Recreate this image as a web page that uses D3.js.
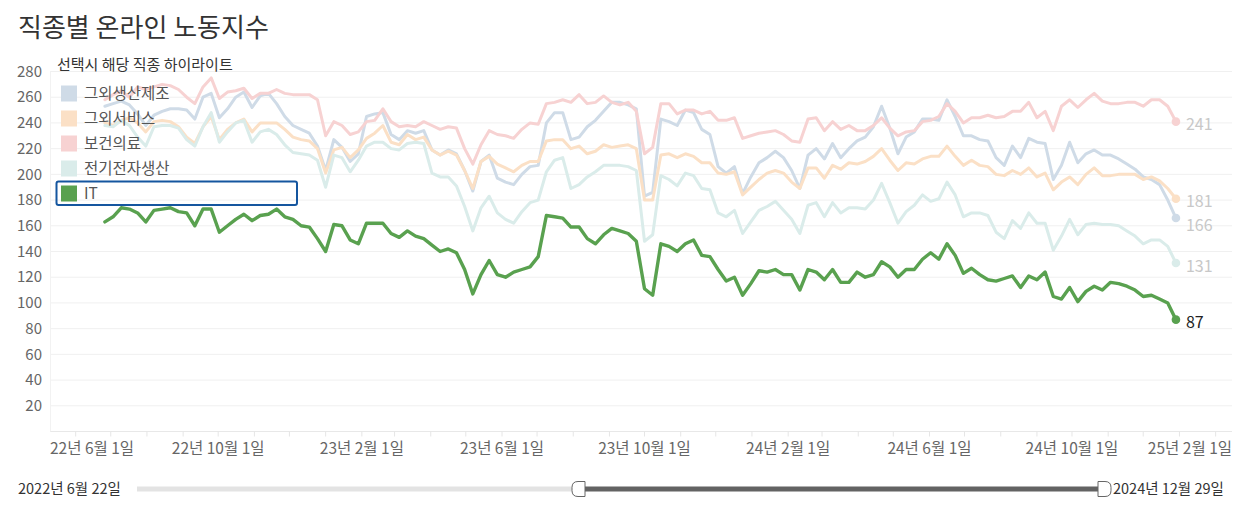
<!DOCTYPE html>
<html><head><meta charset="utf-8">
<script src="https://cdn.jsdelivr.net/npm/d3@7"></script>
<style>
body{margin:0;background:#fff;}
svg{display:block;font-family:"Noto Sans CJK KR","Noto Sans",sans-serif;}
</style></head><body>
<svg id="chart" width="1258" height="516"></svg>
<script>
// ---------- data ----------
const chartTitle = "직종별 온라인 노동지수";
const legendTitle = "선택시 해당 직종 하이라이트";
const seriesNames = ["그외생산제조", "그외서비스", "보건의료", "전기전자생산", "IT"];
const seriesColors = ["#4e79a7", "#f28e2b", "#e15759", "#76b7b2", "#59a14f"];
const highlighted = "IT";
const firstWeek = "2022-06-26";
const lastWeek = "2024-12-29";
const yTickValues = [20, 40, 60, 80, 100, 120, 140, 160, 180, 200, 220, 240, 260, 280];
const xLabelDates = ["2022-06-01", "2022-10-01", "2023-02-01", "2023-06-01", "2023-10-01", "2024-02-01", "2024-06-01", "2024-10-01", "2025-02-01"];
const sliderStartLabel = "2022년 6월 22일";
const sliderEndLabel = "2024년 12월 29일";

const otherManufacturing = [253,255,257,254,247,238,246,249,251,251,250,243,260,263,244,251,260,264,252,261,
  263,255,245,238,235,232,222,203,227,221,210,216,245,247,248,231,227,234,232,234,
  219,215,219,216,203,187,210,215,197,194,192,200,206,207,240,248,248,227,229,237,
  242,249,256,256,254,251,183,186,243,241,238,250,248,235,231,206,201,206,185,198,
  209,213,218,213,203,189,215,220,212,224,213,220,226,229,237,253,236,216,229,233,
  243,243,242,258,245,230,230,227,226,213,207,222,213,228,225,224,196,207,225,209,
  216,219,215,215,212,208,204,198,196,192,180,166];
const otherServices = [240,238,242,244,240,233,241,242,241,237,229,224,237,245,227,235,240,243,233,240,
  240,240,235,229,227,226,220,201,219,221,213,219,228,232,238,225,223,231,227,229,
  219,215,218,215,203,189,210,214,208,205,202,207,210,210,226,227,227,220,222,216,
  218,223,221,222,223,220,180,180,215,216,213,216,214,209,209,201,200,202,184,190,
  196,201,203,201,194,189,205,205,197,207,204,209,208,210,214,220,211,203,209,208,
  212,214,214,222,214,207,211,207,206,200,199,203,200,205,198,201,188,194,198,192,
  200,205,199,199,200,200,200,196,198,195,189,181];
const healthcare = [258,262,265,260,268,266,268,270,269,266,260,255,268,275,259,264,265,267,259,263,
  263,266,263,262,262,262,258,230,241,238,231,233,241,242,251,241,237,238,237,241,
  238,235,237,236,220,208,223,234,231,230,228,235,240,239,255,256,258,256,262,255,
  256,261,256,254,256,249,216,221,255,255,247,250,250,247,249,242,242,244,228,230,
  232,233,234,231,226,225,243,244,234,241,235,238,234,234,238,244,236,230,233,234,
  241,242,245,255,249,240,244,244,246,244,245,249,249,256,244,249,234,253,258,252,
  258,263,257,255,255,256,256,253,258,258,253,241];
const electronics = [238,237,242,238,229,222,237,238,238,236,227,222,237,248,225,233,240,242,225,233,
  235,231,223,217,216,215,211,190,215,213,202,211,222,225,225,220,219,224,225,224,
  201,198,198,191,175,156,174,183,170,165,162,171,178,180,202,211,213,189,192,198,
  202,207,207,207,206,203,148,153,199,196,191,201,199,189,188,170,167,172,154,163,
  172,175,179,172,165,154,176,178,167,178,170,174,174,173,180,193,178,162,171,176,
  184,179,181,194,184,167,170,170,168,155,150,164,158,170,162,162,141,152,165,153,
  161,162,161,161,160,156,152,146,149,149,144,131];
const itJobs = [163,167,174,173,170,163,172,173,174,171,170,160,173,173,155,160,165,169,164,168,
  169,173,167,165,160,159,150,140,161,160,149,146,162,162,162,154,151,156,152,150,
  145,140,142,139,126,107,122,133,122,120,124,126,128,136,168,167,166,159,159,150,
  146,153,158,156,154,148,111,106,146,144,140,146,149,137,136,126,117,120,106,115,
  125,124,126,122,122,110,126,124,118,126,116,116,124,120,122,132,128,120,126,126,
  134,139,134,146,137,123,127,122,118,117,119,121,112,121,118,124,105,103,112,101,
  109,113,110,116,115,113,110,105,106,103,100,87];

const seriesValues = [otherManufacturing, otherServices, healthcare, electronics, itJobs];

// ---------- layout ----------
const W = 1258, H = 516;
const plotLeft = 50, plotRight = 1232, plotTop = 71.5, plotBottom = 431.5;
const fadedOpacity = 0.27;

const svg = d3.select("#chart");
const parse = d3.utcParse("%Y-%m-%d");
const weeks = d3.utcSunday.range(parse(firstWeek), d3.utcDay.offset(parse(lastWeek), 1));

const x = d3.scaleUtc()
  .domain([d3.utcDay.offset(weeks[0], -47), d3.utcDay.offset(weeks[weeks.length - 1], 48)])
  .range([plotLeft, plotRight]);
const y = d3.scaleLinear().domain([0, 280]).range([plotBottom, plotTop]);

function fadeColor(c, a) {
  const col = d3.rgb(c);
  return d3.rgb(255 - a * (255 - col.r), 255 - a * (255 - col.g), 255 - a * (255 - col.b)).formatHex();
}
const colorOf = (name, i) => name === highlighted ? seriesColors[i] : fadeColor(seriesColors[i], fadedOpacity);

// title
svg.append("text").attr("x", 18).attr("y", 28).attr("dy", "0.35em")
  .attr("font-size", 26).attr("fill", "#333").text(chartTitle);

// grid
const grid = svg.append("g");
grid.selectAll("line.h").data(yTickValues).join("line")
  .attr("x1", plotLeft).attr("x2", plotRight)
  .attr("y1", d => y(d)).attr("y2", d => y(d))
  .attr("stroke", "#f0f0f0").attr("stroke-width", 1);
grid.append("line").attr("x1", plotLeft).attr("x2", plotRight)
  .attr("y1", y(0)).attr("y2", y(0)).attr("stroke", "#e8e8e8");
grid.append("line").attr("x1", plotLeft + 0.5).attr("x2", plotLeft + 0.5)
  .attr("y1", plotTop).attr("y2", y(0)).attr("stroke", "#f2f2f2");

// y labels
svg.append("g").selectAll("text").data(yTickValues).join("text")
  .attr("x", 42).attr("y", d => y(d)).attr("dy", "0.35em")
  .attr("text-anchor", "end").attr("font-size", 15).attr("fill", "#666")
  .text(d => d);

// x month ticks
const months = d3.utcMonth.range(parse("2022-06-01"), parse("2025-02-02"));
svg.append("g").selectAll("line").data(months).join("line")
  .attr("x1", d => x(d)).attr("x2", d => x(d))
  .attr("y1", y(0)).attr("y2", y(0) + 5)
  .attr("stroke", "#e6e6e6");

// x labels (clamped inside plot)
const fmt = d3.utcFormat("%y년 %-m월 %-d일");
const xl = svg.append("g").selectAll("text").data(xLabelDates.map(parse)).join("text")
  .attr("y", 449).attr("dy", "0.35em").attr("font-size", 15.5).attr("fill", "#666")
  .attr("text-anchor", "middle").text(d => fmt(d));
xl.each(function(d) {
  const w = this.getComputedTextLength();
  let cx = x(d);
  cx = Math.max(plotLeft + w / 2, Math.min(plotRight - w / 2, cx));
  d3.select(this).attr("x", cx);
});

// lines
const line = d3.line().x((d, i) => x(weeks[i])).y(d => y(d));
const order = seriesNames.map((n, i) => i).sort((a, b) => (seriesNames[a] === highlighted) - (seriesNames[b] === highlighted));
const lg = svg.append("g");
order.forEach(i => {
  const hl = seriesNames[i] === highlighted;
  lg.append("path").datum(seriesValues[i])
    .attr("d", line).attr("fill", "none")
    .attr("stroke", colorOf(seriesNames[i], i))
    .attr("stroke-width", hl ? 3.4 : 3)
    .attr("stroke-linejoin", "round").attr("stroke-linecap", "round");
});
// end dots
order.forEach(i => {
  const v = seriesValues[i];
  lg.append("circle").attr("cx", x(weeks[v.length - 1])).attr("cy", y(v[v.length - 1]))
    .attr("r", 4.3).attr("fill", colorOf(seriesNames[i], i));
});

// end labels with simple collision avoidance
const ends = seriesNames.map((n, i) => ({ n, i, v: seriesValues[i][seriesValues[i].length - 1] }))
  .sort((a, b) => b.v - a.v);
let prev = -Infinity;
ends.forEach(e => {
  let ly = y(e.v) + 3;
  if (ly < prev + 24) ly = prev + 24;
  e.ly = ly; prev = ly;
});
svg.append("g").selectAll("text").data(ends).join("text")
  .attr("x", x(weeks[weeks.length - 1]) + 10).attr("y", d => d.ly).attr("dy", "0.35em")
  .attr("font-size", 16)
  .attr("fill", d => d.n === highlighted ? "#222" : "#c8c8c8")
  .text(d => d.v);

// legend
const leg = svg.append("g");
leg.append("text").attr("x", 57).attr("y", 65).attr("dy", "0.35em")
  .attr("font-size", 15).attr("fill", "#333").text(legendTitle);
const items = leg.selectAll("g.item").data(seriesNames).join("g")
  .attr("transform", (d, i) => `translate(0, ${93.5 + 25 * i})`);
items.append("rect").attr("x", 61).attr("y", -8).attr("width", 16).attr("height", 16)
  .attr("fill", (d, i) => colorOf(d, i));
items.append("text").attr("x", 84).attr("y", 0).attr("dy", "0.35em")
  .attr("font-size", 15.5).attr("fill", "#555").text(d => d);
items.filter(d => d === highlighted).append("rect")
  .attr("x", 56.5).attr("y", -12).attr("width", 240.5).attr("height", 23.5)
  .attr("rx", 2).attr("fill", "none").attr("stroke", "#15569f").attr("stroke-width", 2);

// range slider
const sl = svg.append("g");
const sy = 489;
const trackL = 137, handleL = 572, handleR = 1111, handleW = 13;
sl.append("text").attr("x", 18).attr("y", sy).attr("dy", "0.35em")
  .attr("font-size", 14.5).attr("fill", "#333").text(sliderStartLabel);
sl.append("rect").attr("x", trackL).attr("y", sy - 2.5).attr("width", handleL - trackL).attr("height", 5)
  .attr("fill", "#e3e3e3");
sl.append("rect").attr("x", handleL + handleW).attr("y", sy - 2.5)
  .attr("width", (handleR - handleW) - (handleL + handleW)).attr("height", 5).attr("fill", "#636363");
function handle(x0, x1, roundLeft) {
  const t = sy - 7.5, b = sy + 7.5, r = 6;
  if (roundLeft)
    return `M${x1},${t}H${x0 + r}Q${x0},${t} ${x0},${t + r}V${b - r}Q${x0},${b} ${x0 + r},${b}H${x1}Z`;
  return `M${x0},${t}H${x1 - r}Q${x1},${t} ${x1},${t + r}V${b - r}Q${x1},${b} ${x1 - r},${b}H${x0}Z`;
}
sl.append("path").attr("d", handle(handleL, handleL + handleW, true))
  .attr("fill", "#fff").attr("stroke", "#666").attr("stroke-width", 1);
sl.append("path").attr("d", handle(handleR - handleW, handleR, false))
  .attr("fill", "#fff").attr("stroke", "#666").attr("stroke-width", 1);
sl.append("text").attr("x", handleR + 2).attr("y", sy).attr("dy", "0.35em")
  .attr("font-size", 14.5).attr("fill", "#333").text(sliderEndLabel);
</script>
</body></html>
